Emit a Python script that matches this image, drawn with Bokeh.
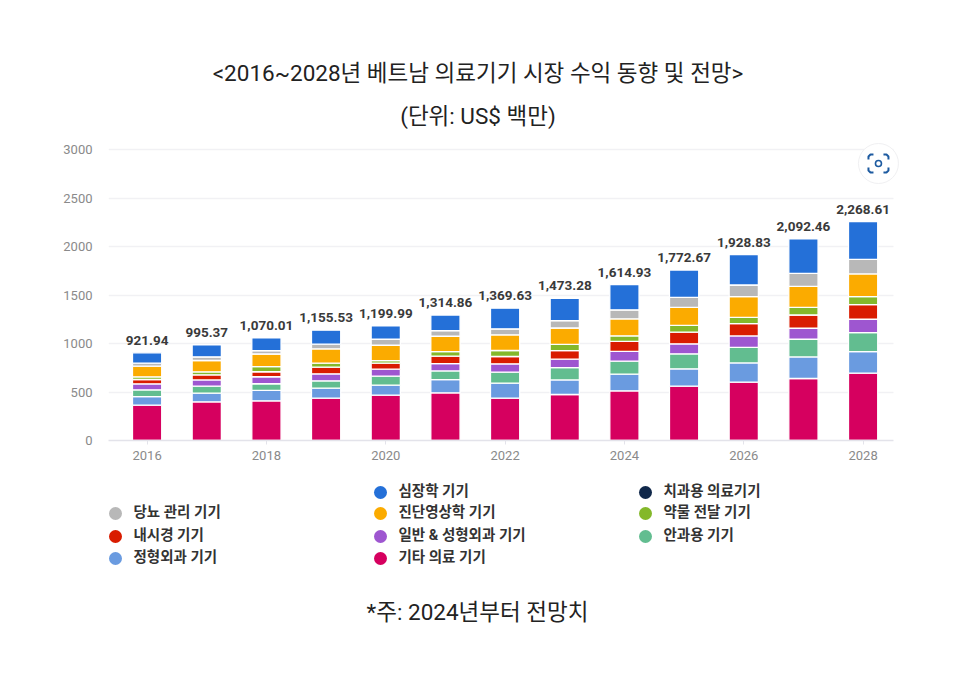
from bokeh.plotting import figure
from bokeh.layouts import column
from bokeh.models import ColumnDataSource, FixedTicker, Range1d
from bokeh.core.properties import value
from bokeh.embed import file_html
from bokeh.resources import INLINE

years = [2016, 2017, 2018, 2019, 2020, 2021, 2022, 2023, 2024, 2025, 2026, 2027, 2028]
total_labels = ["921.94", "995.37", "1,070.01", "1,155.53", "1,199.99", "1,314.86", "1,369.63",
                "1,473.28", "1,614.93", "1,772.67", "1,928.83", "2,092.46", "2,268.61"]
other = [364, 399, 409, 436, 467, 491, 436, 474, 512, 560, 601, 639, 694]
ortho = [89, 89, 107, 103, 103, 137, 155, 151, 172, 179, 199, 223, 223]
ophth = [69, 72, 69, 76, 93, 89, 113, 127, 134, 155, 161, 182, 196]
surgery = [62, 65, 72, 72, 72, 76, 86, 86, 100, 103, 117, 113, 137]
endo = [45, 52, 52, 69, 62, 76, 76, 89, 103, 120, 127, 137, 151]
drug = [27, 31, 52, 41, 27, 48, 62, 65, 58, 69, 65, 79, 82]
imaging = [110, 117, 131, 148, 158, 158, 161, 168, 175, 186, 213, 216, 234]
diabetes = [31, 38, 34, 48, 62, 58, 62, 76, 93, 103, 120, 134, 151]
dental = [0, 0, 0, 0, 0, 0, 0, 0, 0, 0, 0, 0, 0]
cardio = [107, 124, 131, 144, 137, 161, 213, 230, 261, 282, 313, 357, 388]

series_names = ["other", "ortho", "ophth", "surgery", "endo", "drug", "imaging", "diabetes", "dental", "cardio"]
series_colors = ["#d6005f", "#6a9be0", "#62bd90", "#9e56d0", "#d91c00", "#84b82a", "#fbab00", "#b8b8b8", "#10284a", "#2470d8"]
legend_names = ["심장학 기기", "치과용 의료기기", "당뇨 관리 기기", "진단영상학 기기", "약물 전달 기기", "내시경 기기",
                "일반 & 성형외과 기기", "안과용 기기", "정형외과 기기", "기타 의료 기기"]
legend_colors = ["#2470d8", "#10284a", "#b8b8b8", "#fbab00", "#84b82a", "#d91c00", "#9e56d0", "#62bd90", "#6a9be0", "#d6005f"]
legend_x = [380, 645, 115, 380, 645, 115, 380, 645, 115, 380]
legend_y = [492, 492, 513, 513, 513, 536, 536, 536, 558, 558]
title_texts = ["<2016~2028년 베트남 의료기기 시장 수익 동향 및 전망>", "(단위: US$ 백만)"]
note_text = "*주: 2024년부터 전망치"

FONT = value("Roboto, 'Noto Sans CJK KR'")
totals = [sum(v) for v in zip(other, ortho, ophth, surgery, endo, drug, imaging, diabetes, dental, cardio)]
source = ColumnDataSource(dict(year=years, other=other, ortho=ortho, ophth=ophth, surgery=surgery, endo=endo,
                               drug=drug, imaging=imaging, diabetes=diabetes, dental=dental, cardio=cardio,
                               top=totals, label=total_labels))

W = 941
TOP_H = 470
LOW_H = 199
FL, FR, FB = 108, W, 440   # frame edges in page pixels
STEP = 59.67
PX_PER_UNIT = 291 / 3000
x0 = 2016 - (146.6 - FL) / STEP
x1 = 2028 + (FR - 862.6) / STEP
ytop = FB / PX_PER_UNIT


def dx(px):
    return x0 + (px - FL) / STEP


def dy(py):
    return (FB - py) / PX_PER_UNIT


p = figure(width=W, height=TOP_H, output_backend="svg", toolbar_location=None,
           x_range=Range1d(x0, x1), y_range=Range1d(0, ytop),
           min_border_left=FL, min_border_right=0, min_border_top=0, min_border_bottom=int(TOP_H - FB))
p.outline_line_color = None
p.background_fill_color = "white"
p.border_fill_color = "white"

p.xgrid.visible = False
p.ygrid.grid_line_color = "#f1f1f4"
p.ygrid.grid_line_width = 1.5
p.ygrid.ticker = FixedTicker(ticks=[500, 1000, 1500, 2000, 2500, 3000])
p.ygrid.cross_bounds = (x0, dx(893))

p.yaxis.ticker = FixedTicker(ticks=[0, 500, 1000, 1500, 2000, 2500, 3000])
p.yaxis.axis_line_color = None
p.yaxis.major_tick_line_color = None
p.yaxis.major_tick_out = 0
p.yaxis.major_tick_in = 0
p.yaxis.minor_tick_line_color = None
p.yaxis.major_label_text_color = "#8a8a8a"
p.yaxis.major_label_text_font = "Roboto"
p.yaxis.major_label_text_font_size = "13px"
p.yaxis.major_label_standoff = 16

p.xaxis.ticker = FixedTicker(ticks=years[::2])
p.xaxis.bounds = (x0, dx(893))
p.xaxis.axis_line_color = "#e3e3ea"
p.xaxis.axis_line_width = 1.5
p.xaxis.major_tick_line_color = "#e3e3ea"
p.xaxis.major_tick_in = 0
p.xaxis.major_tick_out = 4
p.xaxis.minor_tick_line_color = None
p.xaxis.major_label_text_color = "#8a8a8a"
p.xaxis.major_label_text_font = "Roboto"
p.xaxis.major_label_text_font_size = "13px"
p.xaxis.major_label_standoff = 6

p.vbar_stack(series_names, x="year", width=0.49, color=series_colors, source=source,
             line_color="white", line_width=1.3)

p.text(x="year", y="top", text="label", source=source, text_align="center", text_baseline="bottom",
       y_offset=-8, text_font=value("Roboto"), text_font_style="bold", text_font_size="13.5px", text_color="#3a3a3a")

# titles
p.text(x=[dx(477.5), dx(477.5)], y=[dy(72), dy(115)], text=title_texts, text_align="center", text_baseline="middle",
       text_font=FONT, text_font_size="22.5px", text_color="#222222")

# image-search button in the upper right corner of the screenshot
p.scatter([dx(878)], [dy(163)], size=40, fill_color="white", line_color="#f0f0f2", line_width=1)
icon = "#1c5aa0"
corner_xs = [[868, 868, 870, 873], [883, 886, 888, 888], [868, 868, 870, 873], [883, 886, 888, 888]]
corner_ys = [[159, 156, 154, 154], [154, 154, 156, 159], [167, 170, 172, 172], [172, 172, 170, 167]]
p.multi_line([[dx(a) for a in xs] for xs in corner_xs], [[dy(b) for b in ys] for ys in corner_ys],
             line_color=icon, line_width=2)
p.scatter([dx(878)], [dy(163)], size=6, fill_color="white", line_color=icon, line_width=1.6)

# lower panel: legend and note, in page pixel coordinates (frame edges line up with the chart above)
q = figure(width=W, height=LOW_H, output_backend="svg", toolbar_location=None,
           x_range=Range1d(FL, FR), y_range=Range1d(TOP_H + LOW_H, TOP_H),
           min_border_left=FL, min_border_right=0, min_border_top=0, min_border_bottom=0)
q.axis.visible = False
q.grid.visible = False
q.outline_line_color = None
q.scatter(legend_x, legend_y, size=13, fill_color=legend_colors, line_color=None)
q.text([x + 18 for x in legend_x], [y - 1 for y in legend_y], text=legend_names, text_align="left",
       text_baseline="middle", text_font=FONT, text_font_style="bold", text_font_size="14.5px", text_color="#333333")
q.text([477], [611], text=[note_text], text_align="center", text_baseline="middle",
       text_font=FONT, text_font_size="22.5px", text_color="#222222")

open("out.html", "w").write(file_html(column(p, q, spacing=0), INLINE))
